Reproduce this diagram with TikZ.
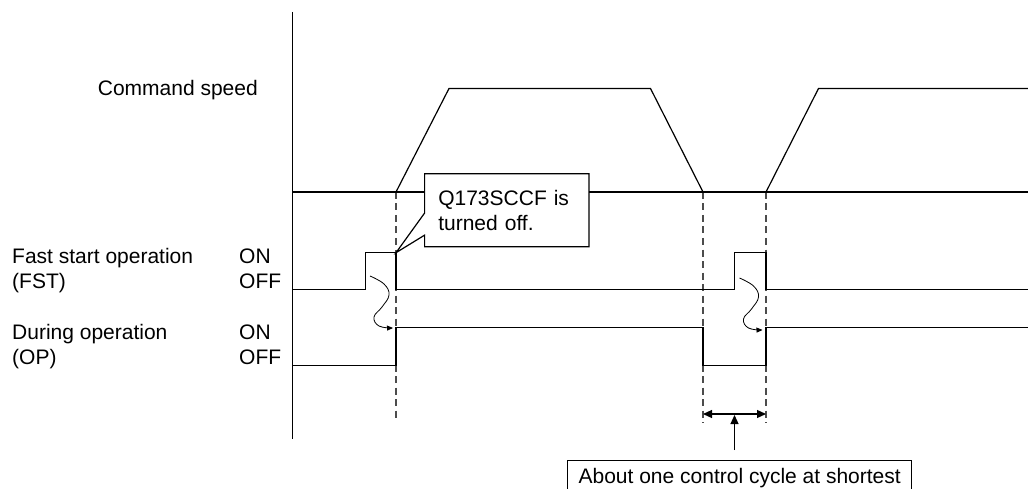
\documentclass[tikz,border=0pt]{standalone}
\usepackage{fontspec}
\setmainfont{Liberation Sans}
\usetikzlibrary{arrows.meta}

\begin{document}
\begin{tikzpicture}[x=1pt, y=-1pt,
    sig/.style={line width=1.2pt, line join=miter},
    guide/.style={gray!60!black, line width=1.1pt, dash pattern=on 7pt off 4.5pt},
    lbl/.style={inner sep=0pt, font=\fontsize{21}{25}\selectfont},
    wavy/.style={line width=0.8pt, -{Triangle[length=6pt,width=5pt]}},
    dim/.style={line width=1.2pt, {Triangle[length=9pt,width=8pt]}-{Triangle[length=9pt,width=8pt]}},
    arr/.style={line width=1.2pt, -{Triangle[length=9pt,width=8pt]}}]
    % times
    \def\xA{292.5}   % axis
    \def\tF{365.5}   % FST on
    \def\tA{396}     % start of first move
    \def\tB{703}     % end of first move
    \def\tC{734.5}   % FST on again
    \def\tD{766}     % start of second move
    \def\xE{1028}    % right edge
    % levels
    \def\vT{88.5}    \def\vB{192}
    \def\fOn{252.7}  \def\fOff{289.5}
    \def\oOn{327.3}  \def\oOff{365.5}

    % frame
    \useasboundingbox (0,0) rectangle (1028,489);
    \clip (0,0) rectangle (1028,489);

    % dashed guides
    \draw[guide] (\tA,\vB) -- (\tA,422);
    \foreach \t in {\tB,\tD}
        \draw[guide] (\t,\vB) -- (\t,423);

    % axis
    \draw[line width=1.3pt] (\xA,12) -- (\xA,439);

    % command speed
    \draw[sig] (\xA,\vB) -- (\xE,\vB);
    \draw[sig] (\tA,\vB) -- (449,\vT) -- (650.5,\vT) -- (\tB,\vB);
    \draw[sig] (\tD,\vB) -- (818.5,\vT) -- (\xE,\vT);

    % FST
    \draw[sig] (\xA,\fOff) -- (\tF,\fOff) -- (\tF,\fOn) -- (\tA,\fOn) -- (\tA,\fOff)
        -- (\tC,\fOff) -- (\tC,\fOn) -- (\tD,\fOn) -- (\tD,\fOff) -- (\xE,\fOff);
    \coordinate (fstA) at (\tA,\fOn);

    % OP
    \draw[sig] (\xA,\oOff) -- (\tA,\oOff) -- (\tA,\oOn) -- (\tB,\oOn) -- (\tB,\oOff)
        -- (\tD,\oOff) -- (\tD,\oOn) -- (\xE,\oOn);

    % FST -> OP
    \foreach \x/\y in {370/276, 739.5/278}
        \draw[wavy] plot[smooth, tension=0.7] coordinates
            {(\x,\y) (\x+14,\y+8) (\x+19,\y+19) (\x+12,\y+31) (\x+4,\y+41) (\x+9,\y+50) (\x+23,\y+52)};

    % labels
    \node[lbl, anchor=base east] (cmd) at (258,96) {Command speed};
    \node[lbl, anchor=base west] (fst) at (12,263) {Fast start operation};
    \node[lbl, anchor=base west] (fstb) at (12,288) {(FST)};
    \node[lbl, anchor=base west] (fston) at (239,263) {ON};
    \node[lbl, anchor=base west] (fstoff) at (239,288) {OFF};
    \node[lbl, anchor=base west] (op) at (12,339) {During operation};
    \node[lbl, anchor=base west] (opb) at (12,364) {(OP)};
    \node[lbl, anchor=base west] (opon) at (239,339) {ON};
    \node[lbl, anchor=base west] (opoff) at (239,364) {OFF};

    % callout
    \node[lbl, fill=white, text width=137pt, align=left, inner xsep=13.5pt,
        minimum height=72.7pt] (qnote) at (506.8,210.3) {Q173SCCF is\\turned off.};
    \draw[sig] (qnote.north west) -- (qnote.north east) -- (qnote.south east)
        -- (qnote.south west) -- ([yshift=11.7pt]qnote.south west) -- (fstA)
        -- ([yshift=-39.3pt]qnote.north west) -- cycle;

    % control cycle
    \draw[dim] (\tB,414) -- (\tD,414);
    \coordinate (mid) at (\tC,415);
    \node[lbl, draw, line width=1.2pt, anchor=north west, inner xsep=11pt,
        inner ysep=7.6pt] (cyclenote) at (567,460) {About one control cycle at shortest};
    \draw[arr, shorten <=10pt] (cyclenote.north -| mid) -- (mid);
\end{tikzpicture}
\end{document}
